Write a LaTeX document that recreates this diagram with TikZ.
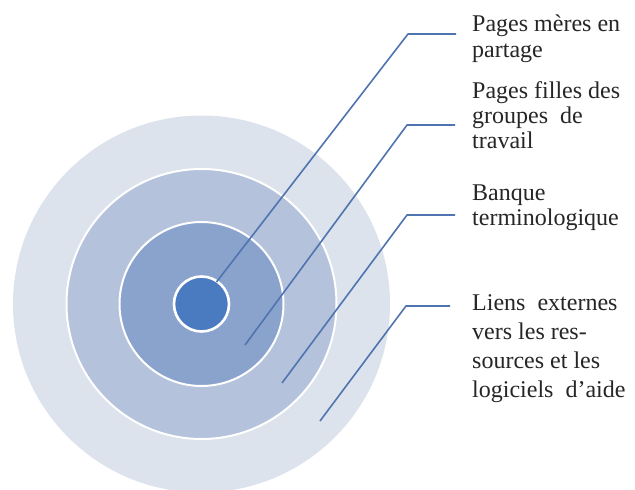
\documentclass[tikz,border=0pt]{standalone}
\usepackage{fontspec}
\setmainfont{Liberation Serif}
\definecolor{ringA}{HTML}{DDE3EC}
\definecolor{ringB}{HTML}{B4C2DC}
\definecolor{ringC}{HTML}{8AA3CD}
\definecolor{ringD}{HTML}{4A7AC0}
\definecolor{leader}{HTML}{4F74B0}
\definecolor{txt}{HTML}{262626}
\tikzset{
  ring/.style={circle, inner sep=0pt, draw=white, line width=2pt},
  leaderline/.style={draw=leader, line width=1.6pt, line join=round},
  label/.style={anchor=base west, inner sep=0pt, align=left, text=txt}
}
\begin{document}
\begin{tikzpicture}[x=1pt,y=-1pt]
\useasboundingbox (0,0) rectangle (635,490);
\clip (0,0) rectangle (635,490);
\fill[white] (0,0) rectangle (635,490);
% rings
\node[ring, draw=none, fill=ringA, minimum size=377pt] (r4) at (201.5,304) {};
\node[ring, fill=ringB, minimum size=270pt] (r3) at (201.5,304) {};
\node[ring, fill=ringC, minimum size=164pt] (r2) at (201.5,304) {};
\node[ring, fill=ringD, line width=2.6pt, minimum size=55pt] (r1) at (201.5,304) {};
% leader coordinates
\coordinate (s1) at (216.5,282);
\coordinate (k1) at (408,34);
\coordinate (e1) at (456,34);
\coordinate (s2) at (245,345);
\coordinate (k2) at (407,125);
\coordinate (e2) at (455,125);
\coordinate (s3) at (282,383);
\coordinate (k3) at (407,215);
\coordinate (e3) at (455,215);
\coordinate (s4) at (320,421);
\coordinate (k4) at (406,306);
\coordinate (e4) at (450,306);
\draw[leaderline] (s1) -- (k1) -- (e1);
\draw[leaderline] (s2) -- (k2) -- (e2);
\draw[leaderline] (s3) -- (k3) -- (e3);
\draw[leaderline] (s4) -- (k4) -- (e4);
% labels (base anchor = baseline of the last line)
\node[label, font=\fontsize{24}{26}\selectfont] (t1) at (472,57) {Pages mères en\\partage};
\node[label, font=\fontsize{24}{25}\selectfont] (t2) at (472,148) {Pages filles des\\groupes\ \ de\\travail};
\node[label, font=\fontsize{24}{25}\selectfont] (t3) at (472,225) {Banque\\terminologique};
\node[label, font=\fontsize{24}{29}\selectfont] (t4) at (472,397) {Liens\ \ externes\\vers les res-\\sources et les\\logiciels\ \ d'aide};
\end{tikzpicture}
\end{document}
